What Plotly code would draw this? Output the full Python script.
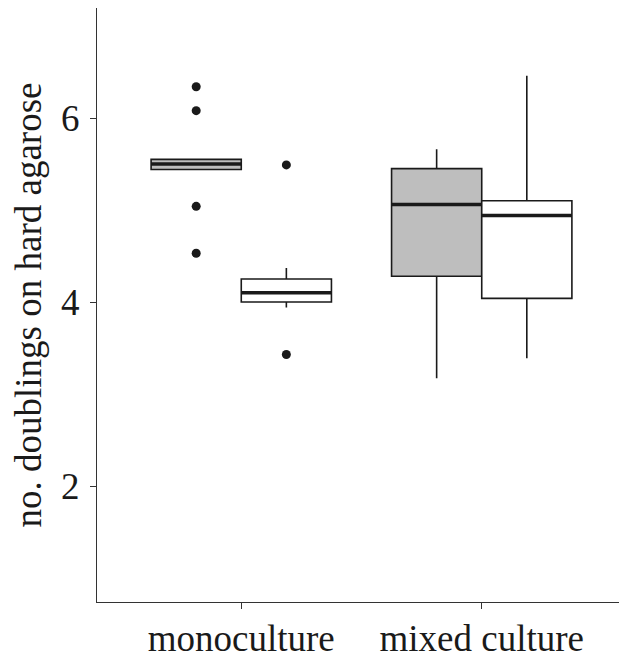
import plotly.graph_objects as go

# ---- data ----
categories = ["monoculture", "mixed culture"]
cat_pos = [1, 2]

# grey series (first of each pair)
grey_q1 = [5.44, 4.28]
grey_median = [5.50, 5.06]
grey_q3 = [5.55, 5.45]
grey_lower = [5.44, 3.17]
grey_upper = [5.55, 5.66]
grey_outliers = [[6.34, 6.08, 5.04, 4.53], []]

# white series (second of each pair)
white_q1 = [4.00, 4.04]
white_median = [4.10, 4.94]
white_q3 = [4.25, 5.10]
white_lower = [3.94, 3.39]
white_upper = [4.37, 6.46]
white_outliers = [[5.49, 3.43], []]

y_ticks = [2, 4, 6]

# ---- styling / layout ----
DODGE = 0.75
BW = DODGE / 2
FONT = "Liberation Serif"
FS = 37

fig = go.Figure()

series = [
    ("grey", "#BEBEBE", -BW / 2, grey_q1, grey_median, grey_q3, grey_lower, grey_upper, grey_outliers),
    ("white", "#FFFFFF", BW / 2, white_q1, white_median, white_q3, white_lower, white_upper, white_outliers),
]

for name, fill, off, q1, med, q3, lo, hi, outs in series:
    xs = [p + off for p in cat_pos]
    fig.add_trace(go.Box(
        x=xs, q1=q1, median=med, q3=q3, lowerfence=lo, upperfence=hi,
        width=BW, fillcolor=fill, line=dict(color="#1a1a1a", width=1.6),
        whiskerwidth=0, boxpoints=False, showlegend=False, hoverinfo="skip",
    ))
    # thicker median line (ggplot style)
    for x, m in zip(xs, med):
        fig.add_trace(go.Scatter(
            x=[x - BW / 2, x + BW / 2], y=[m, m], mode="lines",
            line=dict(color="#1a1a1a", width=3.6), showlegend=False, hoverinfo="skip",
        ))
    # outliers
    ox, oy = [], []
    for x, o in zip(xs, outs):
        ox += [x] * len(o)
        oy += o
    fig.add_trace(go.Scatter(
        x=ox, y=oy, mode="markers",
        marker=dict(color="#1a1a1a", size=9), showlegend=False, hoverinfo="skip",
    ))

# page body has an 8px default margin, so the figure is sized to fit the window
fig.update_layout(
    width=619, height=650,
    margin=dict(l=89, r=1, t=0, b=56, autoexpand=False),
    paper_bgcolor="white", plot_bgcolor="white",
    font=dict(family=FONT, size=FS, color="#1a1a1a"),
    xaxis=dict(
        range=[0.4, 2.6], tickvals=cat_pos, ticktext=categories,
        showgrid=False, zeroline=False, showline=True, mirror=True,
        linecolor="#333333", linewidth=1.3, ticks="outside", ticklen=6,
        tickcolor="#333333", tickwidth=1.3, automargin=False,
        ticklabelstandoff=-3,
        tickfont=dict(family=FONT, size=FS, color="#1a1a1a"),
    ),
    yaxis=dict(
        range=[0.739, 7.196], tickvals=y_ticks,
        showgrid=False, zeroline=False, showline=True, mirror=True,
        linecolor="#333333", linewidth=1.3, ticks="outside", ticklen=6,
        tickcolor="#333333", tickwidth=1.3, automargin=False,
        ticklabelstandoff=3,
        tickfont=dict(family=FONT, size=FS, color="#1a1a1a"),
        title=dict(text="no. doublings on hard agarose",
                   font=dict(family=FONT, size=FS, color="#1a1a1a"), standoff=8),
    ),
)

fig.write_html("out.html")
